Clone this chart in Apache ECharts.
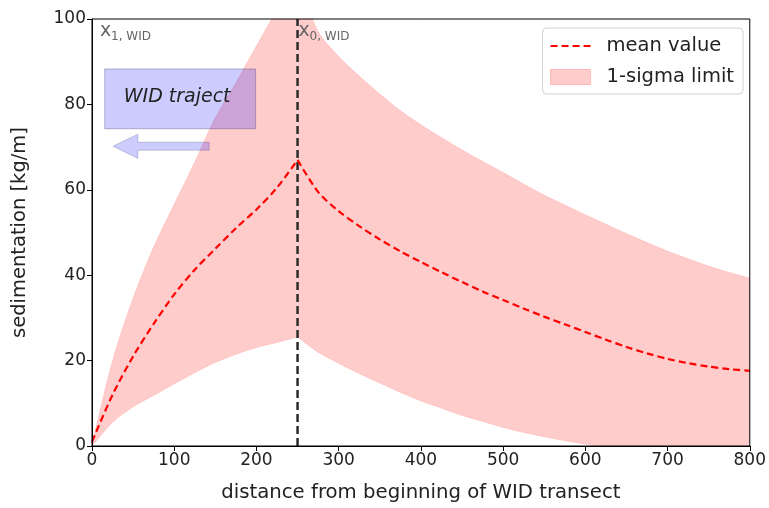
<!DOCTYPE html>
<html><head><meta charset="utf-8">
<script src="https://cdn.jsdelivr.net/npm/echarts@6/dist/echarts.min.js"></script>
<style>html,body{margin:0;padding:0;background:#fff}#c{width:769px;height:508px}</style>
</head><body><div id="c"></div>
<script>
const xs = [0,25,50,75,100,125,150,175,200,225,250,275,300,325,350,375,400,425,450,475,500,525,550,575,600,625,650,675,700,725,750,775,800];
const meanVals = [1,12,21,28.6,35.5,41.3,46.2,51,55.4,60.5,67,59.5,55,51.5,48.4,45.6,43.1,40.7,38.4,36.2,34.2,32.2,30.3,28.5,26.7,24.9,23.2,21.7,20.4,19.4,18.6,18,17.6];
const upperVals = [0,19.8,34.5,46.5,56.5,66.4,76.8,85,93.6,102,109,97,91.2,86.6,82.4,78.5,75.2,72.2,69.3,66.6,64,61.3,58.7,56.4,54.1,51.9,49.7,47.6,45.6,43.8,42.1,40.6,39.3];
const lowerVals = [0,5.6,9.2,11.9,14.6,17.2,19.6,21.5,23.1,24.3,25.6,22,19.4,17,14.8,12.6,10.6,8.9,7.2,5.8,4.4,3.2,2.2,1.3,0.5,0,0,0,0,0,0,0,0];
const xWid0 = 250;
const xTicks = {min:0, max:800, interval:100};
const yTicks = {min:0, max:100, interval:20};

const FONT = 'DejaVu Sans';
const chart = echarts.init(document.getElementById('c'), null, {renderer:'canvas'});
const pairs = vals => xs.map((x,i)=>[x, vals[i]]);
const leftPart = arr => arr.filter(p=>p[0] <= xWid0);
const rightPart = arr => arr.filter(p=>p[0] >= xWid0);
const meanData = pairs(meanVals), lowerData = pairs(lowerVals), upperData = pairs(upperVals);
const BAND = '#ffcccc';
const SM = {smooth:0.3};

const bandSeries = (name, data, z, fill) => Object.assign({name:name,type:'line',data:data,symbol:'none',
  lineStyle:{color:'#ffc2c2',width:1},areaStyle:{color:fill,opacity:1},itemStyle:{color:BAND},z:z}, SM);
const meanSeries = data => Object.assign({name:'mean value',type:'line',data:data,symbol:'none',
  lineStyle:{color:'#ff0000',width:2.2,type:[7,4]},itemStyle:{color:'#ff0000'},z:5}, SM);

const option = {
  animation:false,
  grid:{left:92,right:17,top:19,bottom:60,show:true,borderColor:'#000',borderWidth:1,backgroundColor:'transparent',z:10},
  xAxis:{type:'value',min:xTicks.min,max:xTicks.max,interval:xTicks.interval,z:10,
    axisLine:{lineStyle:{color:'#000',width:1}},axisTick:{show:true,length:5,lineStyle:{color:'#000'}},
    splitLine:{show:false},
    axisLabel:{fontFamily:FONT,fontSize:17,color:'#222',margin:6},
    name:'distance from beginning of WID transect',nameLocation:'middle',nameGap:37,
    nameTextStyle:{fontFamily:FONT,fontSize:19.7,color:'#222'}},
  yAxis:{type:'value',min:yTicks.min,max:yTicks.max,interval:yTicks.interval,z:10,
    axisLine:{show:true,lineStyle:{color:'#000',width:1}},axisTick:{show:true,length:5,lineStyle:{color:'#000'}},
    splitLine:{show:false},
    axisLabel:{fontFamily:FONT,fontSize:17,color:'#222',margin:6},
    name:'sedimentation [kg/m]',nameLocation:'middle',nameRotate:90,nameGap:62,
    nameTextStyle:{fontFamily:FONT,fontSize:19.5,color:'#222'}},
  legend:{orient:'vertical',right:26,top:28,padding:[8,9,7,7],itemWidth:40,itemHeight:15,itemGap:11,
    borderColor:'#d0d0d0',borderWidth:1,borderRadius:4,backgroundColor:'rgba(255,255,255,0.8)',
    textStyle:{fontFamily:FONT,fontSize:19.5,color:'#222',padding:[0,0,0,11]},
    data:[{name:'mean value',itemStyle:{opacity:0}},
          {name:'1-sigma limit',icon:'rect',itemStyle:{color:BAND,borderColor:'#ffb8b8',borderWidth:1}}],
    selectedMode:false},
  series:[
    bandSeries('1-sigma limit', leftPart(upperData), 1, BAND),
    bandSeries('1-sigma limit', rightPart(upperData), 1, BAND),
    bandSeries('lower', leftPart(lowerData), 2, '#ffffff'),
    bandSeries('lower', rightPart(lowerData), 2, '#ffffff'),
    {name:'x0',type:'line',data:[[xWid0,yTicks.min],[xWid0,yTicks.max]],symbol:'none',
      lineStyle:{color:'#2b2b2b',width:2.5,type:[8,4]},z:4},
    meanSeries(leftPart(meanData)),
    meanSeries(rightPart(meanData))
  ]
};
chart.setOption(option);

function px(x,y){return chart.convertToPixel({gridIndex:0},[x,y]);}
const p1 = px(0,100), p0 = px(xWid0,100);
const boxA = px(15.5,88.3), boxB = px(199,74.3);
const arrTip = px(25.4,70.2), arrTail = px(142.5,70.2);
const subStyle = (x,y,t)=>[
  {type:'text',x:x,y:y,style:{text:'x',font:'19px '+FONT,fill:'#666',verticalAlign:'middle'},z:10},
  {type:'text',x:x+11,y:y+6,style:{text:t,font:'12px '+FONT,fill:'#666',verticalAlign:'middle'},z:10}
];
const hl=25, sh=4, hh=12;
const tx=arrTip[0], ty=arrTip[1], ex=arrTail[0];
chart.setOption({graphic:[
  ...subStyle(p1[0]+8,p1[1]+12,'1, WID'),
  ...subStyle(p0[0]+1,p0[1]+12,'0, WID'),
  {type:'rect',shape:{x:boxA[0],y:boxA[1],width:boxB[0]-boxA[0],height:boxB[1]-boxA[1]},
    style:{fill:'rgba(0,0,255,0.2)',stroke:'rgba(60,60,110,0.35)',lineWidth:1},z:8},
  {type:'text',x:boxA[0]+19,y:(boxA[1]+boxB[1])/2-2,style:{text:'WID traject',font:'italic 19px '+FONT,fill:'#222',verticalAlign:'middle'},z:9},
  {type:'polygon',shape:{points:[[tx,ty],[tx+hl,ty-hh],[tx+hl,ty-sh],[ex,ty-sh],[ex,ty+sh],[tx+hl,ty+sh],[tx+hl,ty+hh]]},
    style:{fill:'rgba(0,0,255,0.2)',stroke:'rgba(60,60,110,0.25)',lineWidth:1},z:8}
]});
</script></body></html>
